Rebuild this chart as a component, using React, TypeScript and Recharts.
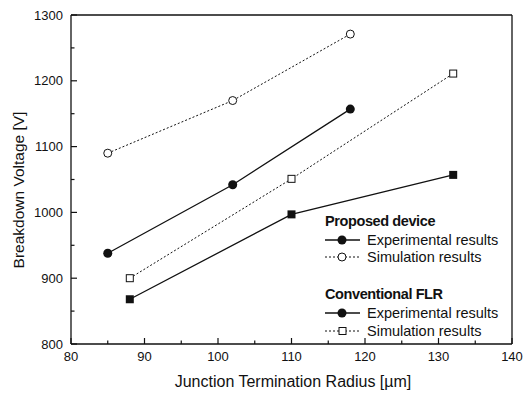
import { Label, Line, LineChart, XAxis, YAxis } from 'recharts';

const xTicks = [80, 85, 90, 95, 100, 105, 110, 115, 120, 125, 130, 135, 140];
const yTicks = [800, 850, 900, 950, 1000, 1050, 1100, 1150, 1200, 1250, 1300];

const proposedRadius = [85, 102, 118];
const proposedExperimental = [938, 1042, 1157];
const proposedSimulation = [1090, 1170, 1271];

const conventionalRadius = [88, 110, 132];
const conventionalExperimental = [868, 997, 1057];
const conventionalSimulation = [900, 1051, 1211];

const toPoints = (xs: number[], ys: number[]) => xs.map((x, i) => ({ x, y: ys[i] }));

const FONT = '"Liberation Sans", Arial, sans-serif';
const INK = '#111';

function BottomTick({ x, y, payload }: any) {
  const major = payload.value % 10 === 0;
  return (
    <g>
      <line x1={x} x2={x} y1={y} y2={y - (major ? 6 : 3.5)} stroke={INK} strokeWidth={1.2} />
      {major && (
        <text x={x} y={y + 12} textAnchor="middle" dominantBaseline="central" fontFamily={FONT} fontSize={13} fill={INK}>
          {payload.value}
        </text>
      )}
    </g>
  );
}

function LeftTick({ x, y, payload }: any) {
  const major = payload.value % 100 === 0;
  return (
    <g>
      <line x1={x} x2={x + (major ? 6 : 3.5)} y1={y} y2={y} stroke={INK} strokeWidth={1.2} />
      {major && (
        <text x={x - 8} y={y} textAnchor="end" dominantBaseline="central" fontFamily={FONT} fontSize={13} fill={INK}>
          {payload.value}
        </text>
      )}
    </g>
  );
}

function RightTick({ x, y, payload }: any) {
  const major = payload.value % 100 === 0;
  return <line x1={x} x2={x - (major ? 6 : 3.5)} y1={y} y2={y} stroke={INK} strokeWidth={1.2} />;
}

const filledCircle = (p: any) => <circle key={p.index} cx={p.cx} cy={p.cy} r={4.5} fill={INK} />;
const openCircle = (p: any) => <circle key={p.index} cx={p.cx} cy={p.cy} r={4} fill="#fff" stroke={INK} strokeWidth={1} />;
const filledSquare = (p: any) => <rect key={p.index} x={p.cx - 4} y={p.cy - 4} width={8} height={8} fill={INK} />;
const openSquare = (p: any) => <rect key={p.index} x={p.cx - 3.5} y={p.cy - 3.5} width={7} height={7} fill="#fff" stroke={INK} strokeWidth={1} />;

function LegendOverlay() {
  const text = { fontFamily: FONT, fontSize: 14.5, fill: INK, dominantBaseline: 'central' as const };
  const rows = [
    { y: 240, dash: undefined, mark: 'fc' },
    { y: 257, dash: '2 2', mark: 'oc' },
    { y: 313, dash: undefined, mark: 'fc' },
    { y: 331, dash: '2 2', mark: 'os' },
  ];
  const labels = ['Experimental results', 'Simulation results', 'Experimental results', 'Simulation results'];
  return (
    <svg width={528} height={394} style={{ position: 'absolute', left: 0, top: 0, pointerEvents: 'none' }}>
      <text x={325} y={221} {...text} fontWeight="bold" letterSpacing={-0.4}>Proposed device</text>
      <text x={325} y={294} {...text} fontWeight="bold" letterSpacing={-0.4}>Conventional FLR</text>
      {rows.map((r, i) => (
        <g key={i}>
          <line x1={325} x2={360} y1={r.y} y2={r.y} stroke={INK} strokeWidth={r.dash ? 1 : 1.3} strokeDasharray={r.dash} />
          {r.mark === 'fc' && <circle cx={342} cy={r.y} r={4.5} fill={INK} />}
          {r.mark === 'oc' && <circle cx={342} cy={r.y} r={4} fill="#fff" stroke={INK} />}
          {r.mark === 'os' && <rect x={339} y={r.y - 3.5} width={7} height={7} fill="#fff" stroke={INK} />}
          <text x={367} y={r.y} {...text}>{labels[i]}</text>
        </g>
      ))}
    </svg>
  );
}

export default function App() {
  return (
    <div style={{ position: 'absolute', left: 0, top: 0, width: 528, height: 394, background: '#fff' }}>
      <LineChart width={528} height={394} margin={{ top: 0, right: 0, bottom: 0, left: 0 }}>
        <XAxis xAxisId="top" orientation="top" type="number" domain={[80, 140]} height={15} tick={false} tickLine={false} axisLine={{ stroke: INK, strokeWidth: 1.3 }} />
        <XAxis
          dataKey="x"
          type="number"
          domain={[80, 140]}
          ticks={xTicks}
          interval={0}
          height={50}
          tickSize={0}
          tickMargin={0}
          tickLine={false}
          tick={<BottomTick />}
          axisLine={{ stroke: INK, strokeWidth: 1.3 }}
        >
          <Label
            content={() => (
              <text x={293} y={381} textAnchor="middle" dominantBaseline="central" fontFamily={FONT} fontSize={16} fill={INK}>
                Junction Termination Radius [µm]
              </text>
            )}
          />
        </XAxis>
        <YAxis
          type="number"
          domain={[800, 1300]}
          ticks={yTicks}
          interval={0}
          width={71}
          tickSize={0}
          tickMargin={0}
          tickLine={false}
          tick={<LeftTick />}
          axisLine={{ stroke: INK, strokeWidth: 1.3 }}
        >
          <Label
            content={() => (
              <text x={18} y={190} transform="rotate(-90 18 190)" textAnchor="middle" dominantBaseline="central" fontFamily={FONT} fontSize={15.5} fill={INK}>
                Breakdown Voltage [V]
              </text>
            )}
          />
        </YAxis>
        <YAxis
          yAxisId="right"
          orientation="right"
          type="number"
          domain={[800, 1300]}
          ticks={yTicks}
          interval={0}
          width={16}
          tickSize={0}
          tickMargin={0}
          tickLine={false}
          tick={<RightTick />}
          axisLine={{ stroke: INK, strokeWidth: 1.3 }}
        />
        <Line data={toPoints(proposedRadius, proposedExperimental)} dataKey="y" type="linear" stroke={INK} strokeWidth={1.3} dot={filledCircle} isAnimationActive={false} />
        <Line data={toPoints(proposedRadius, proposedSimulation)} dataKey="y" type="linear" stroke={INK} strokeWidth={1} strokeDasharray="2 2" dot={openCircle} isAnimationActive={false} />
        <Line data={toPoints(conventionalRadius, conventionalExperimental)} dataKey="y" type="linear" stroke={INK} strokeWidth={1.3} dot={filledSquare} isAnimationActive={false} />
        <Line data={toPoints(conventionalRadius, conventionalSimulation)} dataKey="y" type="linear" stroke={INK} strokeWidth={1} strokeDasharray="2 2" dot={openSquare} isAnimationActive={false} />
      </LineChart>
      <LegendOverlay />
    </div>
  );
}
